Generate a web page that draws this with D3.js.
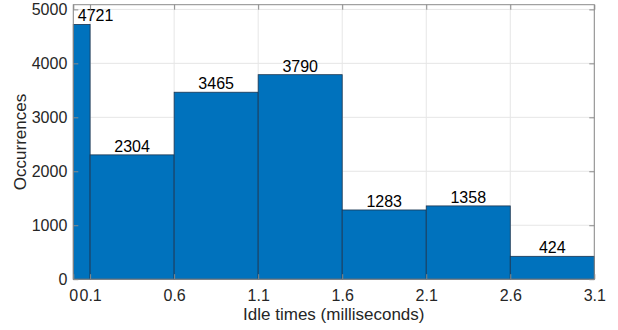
<!DOCTYPE html>
<html><head><meta charset="utf-8">
<script src="https://cdn.jsdelivr.net/npm/d3@7"></script>
<style>body{margin:0;background:#fff}svg{display:block}text{font-family:"Liberation Sans",Arial,sans-serif}</style>
</head><body>
<svg id="c" width="618" height="330"></svg>
<script>
const binEdges = [0, 0.1, 0.6, 1.1, 1.6, 2.1, 2.6, 3.1];
const counts = [4721, 2304, 3465, 3790, 1283, 1358, 424];
const xTicks = [0, 0.1, 0.6, 1.1, 1.6, 2.1, 2.6, 3.1];
const yTicks = [0, 1000, 2000, 3000, 4000, 5000];
const xLabel = "Idle times (milliseconds)";
const yLabel = "Occurrences";

const svg = d3.select("#c");
const L = 73.3, R = 594.3, T = 4.7, B = 279.2;
const x = d3.scaleLinear().domain([0, 3.1]).range([L, R]);
const y = d3.scaleLinear().domain([0, 5087]).range([B, T]);

// grid
svg.append("g").selectAll("line").data(xTicks).join("line")
  .attr("x1", d => x(d)).attr("x2", d => x(d)).attr("y1", T).attr("y2", B)
  .attr("stroke", "#e6e6e6").attr("stroke-width", 1);
svg.append("g").selectAll("line").data(yTicks).join("line")
  .attr("x1", L).attr("x2", R).attr("y1", d => y(d)).attr("y2", d => y(d))
  .attr("stroke", "#e6e6e6").attr("stroke-width", 1);

// bars
const bins = counts.map((c, i) => ({x0: binEdges[i], x1: binEdges[i + 1], c}));
svg.append("g").selectAll("rect").data(bins).join("rect")
  .attr("x", d => x(d.x0)).attr("width", d => x(d.x1) - x(d.x0))
  .attr("y", d => y(d.c)).attr("height", d => y(0) - y(d.c))
  .attr("fill", "#0072BD").attr("stroke", "#1c3550").attr("stroke-width", 0.8);

// value labels
svg.append("g").selectAll("text").data(bins).join("text")
  .attr("x", d => d.x0 === 0 ? L + 4.5 : (x(d.x0) + x(d.x1)) / 2)
  .attr("y", d => y(d.c) - 3)
  .attr("text-anchor", d => d.x0 === 0 ? "start" : "middle")
  .attr("font-size", 16).attr("fill", "#000")
  .text(d => d.c);

// axes box
const ax = svg.append("g");
ax.append("g").attr("transform", `translate(0,${B})`)
  .call(d3.axisBottom(x).tickValues(xTicks).tickSize(-5).tickPadding(10).tickFormat(d3.format("")));
ax.append("g").attr("transform", `translate(0,${T})`)
  .call(d3.axisTop(x).tickValues(xTicks).tickSize(-5).tickFormat(""));
ax.append("g").attr("transform", `translate(${L},0)`)
  .call(d3.axisLeft(y).tickValues(yTicks).tickSize(-5).tickPadding(6).tickFormat(d3.format("")));
ax.append("g").attr("transform", `translate(${R},0)`)
  .call(d3.axisRight(y).tickValues(yTicks).tickSize(-5).tickFormat(""));
ax.selectAll(".domain").remove();
ax.append("rect").attr("x", L).attr("y", T).attr("width", R - L).attr("height", B - T)
  .attr("fill", "none").attr("stroke", "#8a8a8a").attr("stroke-width", 1);
ax.selectAll(".tick line").attr("stroke", "#8a8a8a");
ax.selectAll(".tick text").attr("font-size", 16).attr("fill", "#262626")
  .attr("font-family", '"Liberation Sans",Arial,sans-serif');

// axis labels
svg.append("text").attr("x", (L + R) / 2).attr("y", 320).attr("text-anchor", "middle")
  .attr("font-size", 17).attr("fill", "#262626").text(xLabel);
svg.append("text").attr("transform", `translate(26,${(T + B) / 2}) rotate(-90)`)
  .attr("text-anchor", "middle").attr("font-size", 17).attr("fill", "#262626").text(yLabel);
</script>
</body></html>
